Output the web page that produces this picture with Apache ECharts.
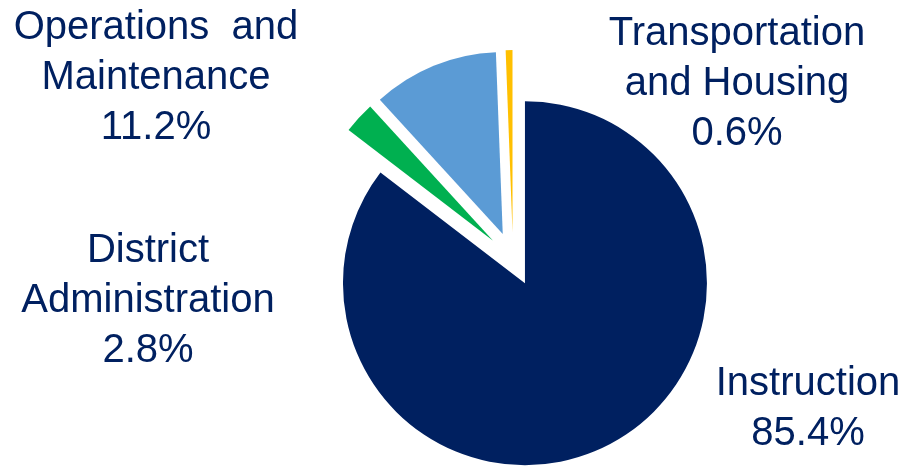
<!DOCTYPE html>
<html>
<head>
<meta charset="utf-8">
<style>
  html, body { margin: 0; padding: 0; background: #ffffff; }
  #chart { width: 909px; height: 467px; }
</style>
<script src="https://cdn.jsdelivr.net/npm/echarts@6/dist/echarts.min.js"></script>
</head>
<body>
<div id="chart"></div>
<script>
// Spending shares by function (percent of total)
const categories = ['Instruction', 'District Administration', 'Operations and Maintenance', 'Transportation and Housing'];
const labelNames = ['Instruction', 'District\nAdministration', 'Operations  and\nMaintenance', 'Transportation\nand Housing'];
const shares = [85.4, 2.8, 11.2, 0.6];
const colors = ['#002060', '#00B050', '#5B9BD5', '#FFC000'];

// Label anchor (top-center of each text block)
const labelAnchors = [
  { x: 808, y: 359 },
  { x: 148, y: 226 },
  { x: 156, y: 3 },
  { x: 737, y: 9 }
];

const chart = echarts.init(document.getElementById('chart'), null, { renderer: 'canvas' });

const data = categories.map((name, i) => ({
  name: name,
  value: shares[i],
  selected: true,
  itemStyle: { color: colors[i] },
  select: { itemStyle: { color: colors[i] } }
}));

const labels = categories.map((name, i) => ({
  type: 'text',
  x: labelAnchors[i].x,
  y: labelAnchors[i].y,
  silent: true,
  style: {
    text: labelNames[i] + '\n' + shares[i].toFixed(1) + '%',
    fill: '#002060',
    font: '40px "Liberation Sans", Arial, sans-serif',
    lineHeight: 50,
    align: 'center',
    verticalAlign: 'top'
  }
}));

chart.setOption({
  animation: false,
  graphic: { elements: labels },
  series: [{
    type: 'pie',
    center: [513, 259],
    radius: [0, 182],
    startAngle: 90,
    clockwise: true,
    selectedMode: 'multiple',
    selectedOffset: 27,
    silent: true,
    emphasis: { disabled: true },
    itemStyle: { borderWidth: 0 },
    labelLine: { show: false },
    label: { show: false },
    data: data
  }]
});
</script>
</body>
</html>
